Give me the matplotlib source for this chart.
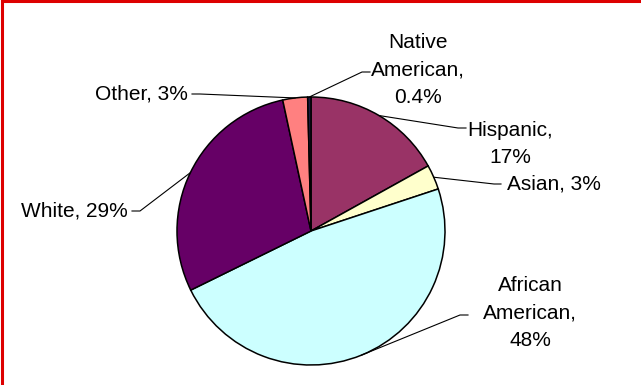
import numpy as np
import matplotlib.pyplot as plt
from matplotlib.patches import Rectangle

# population share by group, clockwise from 12 o'clock
groups = ["Hispanic", "Asian", "African American", "White", "Other", "Native American"]
shares = [17, 3, 48, 29, 3, 0.4]
labels = ["Hispanic,\n17%", "Asian, 3%", "African\nAmerican,\n48%",
          "White, 29%", "Other, 3%", "Native\nAmerican,\n0.4%"]
colors = ["#993366", "#FFFFCC", "#CCFFFF", "#660066", "#FF8080", "#1a1a40"]

W, H = 641, 385
fig = plt.figure(figsize=(W / 100, H / 100), dpi=100)
ax = fig.add_axes([0, 0, 1, 1])

cx, cy, r = 311, H - 231, 134
wedges, _ = ax.pie(shares, colors=colors, startangle=90, counterclock=False,
                   center=(cx, cy), radius=r, frame=True,
                   wedgeprops=dict(edgecolor="black", linewidth=1.1))
ax.set_xlim(0, W)
ax.set_ylim(0, H)
ax.axis("off")

# label layout in pixel coords (y from top): text pos, ha, elbow x, line end x, line y
layout = {
    "Hispanic": (510, 144, "center", 458, 466, 128),
    "Asian": (507, 184, "left", 494, 501, 184),
    "African American": (530, 313, "center", 460, 468, 315),
    "White": (128, 211, "right", 140, 132, 211),
    "Other": (188, 94, "right", 200, 192, 94),
    "Native American": (418, 70, "center", 362, 370, 72),
}

font = dict(family="Liberation Sans", fontsize=15, color="black")
for w, g, lab in zip(wedges, groups, labels):
    tx, ty, ha, ex, lx, ly = layout[g]
    mid = np.deg2rad((w.theta1 + w.theta2) / 2)
    px, py = cx + r * np.cos(mid), cy + r * np.sin(mid)
    ax.plot([px, ex, lx], [py, H - ly, H - ly], color="black", lw=0.8)
    ax.text(tx, H - ty, lab, ha=ha, va="center", linespacing=1.55, **font)

# red frame (only left and top visible in the crop)
fig.patches.append(Rectangle((1.5 / W, -0.1), 1.2, 1.1 - 1.5 / H, transform=fig.transFigure,
                             fill=False, edgecolor="#DD0000", linewidth=2.2))

fig.savefig("out.png", dpi=100, facecolor="white")
